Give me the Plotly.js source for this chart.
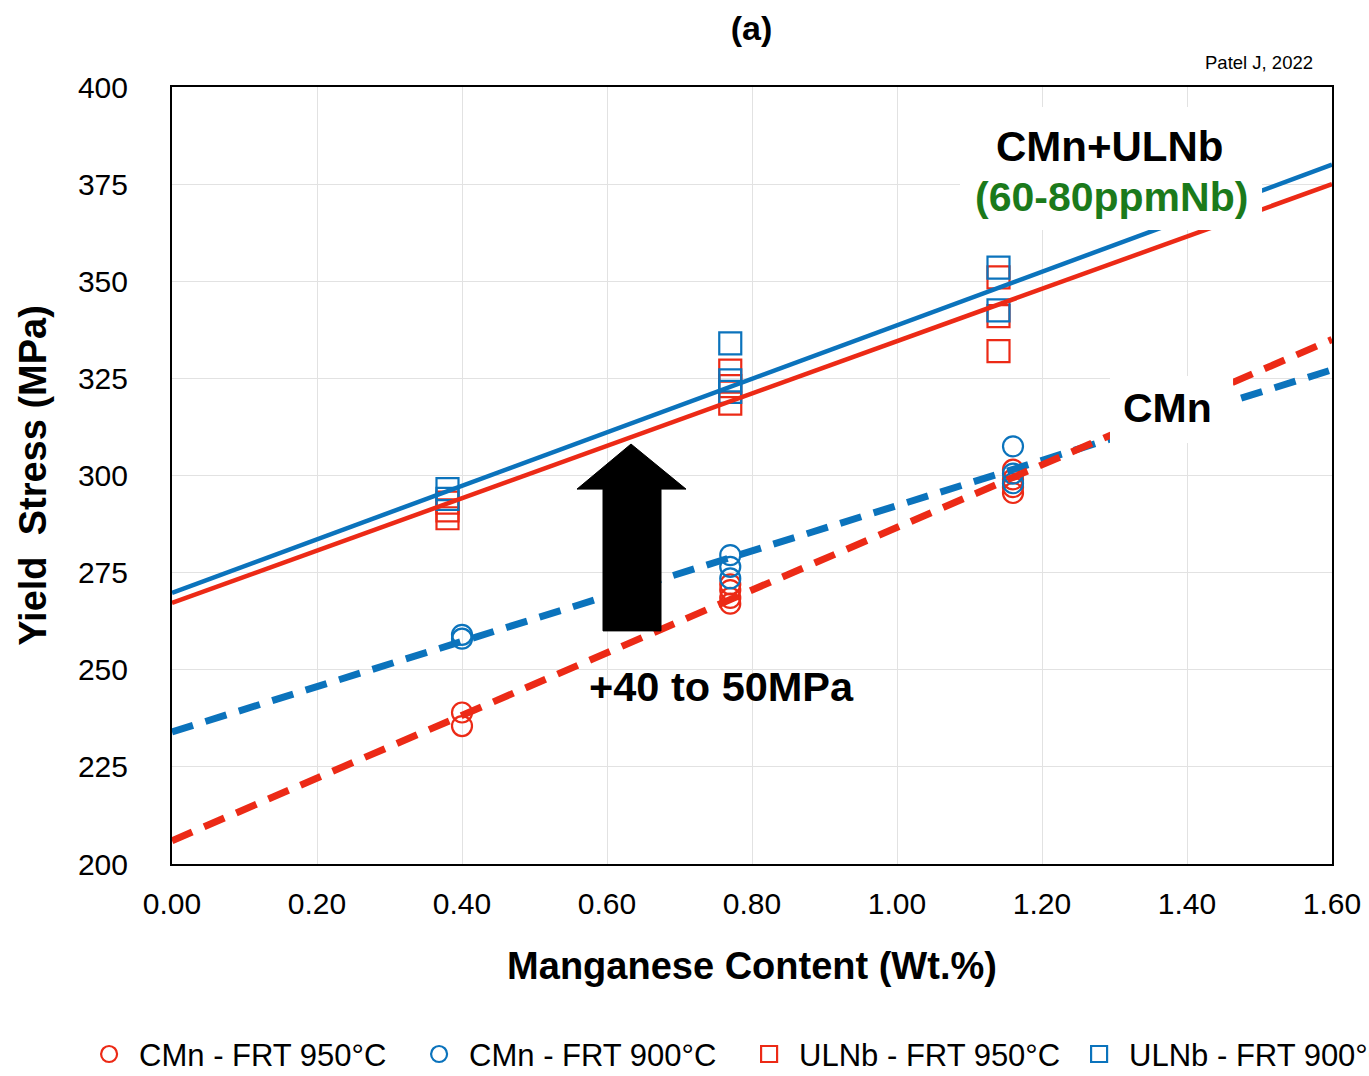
<!DOCTYPE html>
<html>
<head>
<meta charset="utf-8">
<script src="https://cdn.plot.ly/plotly-3.0.1.min.js"></script>
<style>html,body{margin:0;padding:0;background:#fff;}#chart{width:1369px;height:1076px;}</style>
</head>
<body>
<div id="chart"></div>
<script>
// ---- data ----
var cmn950X = [0.40, 0.40, 0.77, 0.77, 0.77, 0.77, 1.16, 1.16, 1.16, 1.16];
var cmn950Y = [239, 235.5, 272, 270.5, 268.5, 267, 301.5, 299, 297, 295.5];
var cmn900X = [0.40, 0.40, 0.77, 0.77, 0.77, 1.16, 1.16, 1.16];
var cmn900Y = [259, 258, 279.5, 276.5, 273.5, 307.5, 300.5, 298];
var ulnb950X = [0.38, 0.38, 0.38, 0.77, 0.77, 0.77, 1.14, 1.14, 1.14];
var ulnb950Y = [293, 291, 289, 327, 323, 318.5, 351, 341, 332];
var ulnb900X = [0.38, 0.38, 0.77, 0.77, 0.77, 1.14, 1.14];
var ulnb900Y = [296.5, 294, 334, 324.5, 321.5, 353.5, 342.5];

// trend lines (end values)
var fitX = [0, 1.6];
var fitUlnb950 = [267.2, 375];
var fitUlnb900 = [269.8, 380];
var fitCmn950 = [206, 335];
var fitCmn900 = [234, 327.2];

// block arrow outline (data units)
var arrowX = [0.5945, 0.5945, 0.5586, 0.6331, 0.709, 0.6745, 0.6745];
var arrowY = [260, 296.5, 296.5, 308.1, 296.5, 296.5, 260];

var seriesNames = ['CMn - FRT 950°C', 'CMn - FRT 900°C', 'ULNb - FRT 950°C', 'ULNb - FRT 900°C'];
var xTicks = [0, 0.2, 0.4, 0.6, 0.8, 1.0, 1.2, 1.4, 1.6];
var xTickText = ['0.00', '0.20', '0.40', '0.60', '0.80', '1.00', '1.20', '1.40', '1.60'];
var yTicks = [200, 225, 250, 275, 300, 325, 350, 375, 400];

var RED = '#EC2A16';
var BLUE = '#0B73BC';
var GREEN = '#1B7A1B';
var FONT = 'Liberation Sans, Arial, Helvetica, sans-serif';

var traces = [
  {x: cmn950X, y: cmn950Y, name: seriesNames[0], type: 'scatter', mode: 'markers',
   marker: {symbol: 'circle-open', size: 20, color: RED, line: {width: 2.2, color: RED}}},
  {x: cmn900X, y: cmn900Y, name: seriesNames[1], type: 'scatter', mode: 'markers',
   marker: {symbol: 'circle-open', size: 20, color: BLUE, line: {width: 2.2, color: BLUE}}},
  {x: ulnb950X, y: ulnb950Y, name: seriesNames[2], type: 'scatter', mode: 'markers',
   marker: {symbol: 'square-open', size: 22, color: RED, line: {width: 2.2, color: RED}}},
  {x: ulnb900X, y: ulnb900Y, name: seriesNames[3], type: 'scatter', mode: 'markers',
   marker: {symbol: 'square-open', size: 22, color: BLUE, line: {width: 2.2, color: BLUE}}},
  {x: fitX, y: fitCmn900, type: 'scatter', mode: 'lines', showlegend: false, hoverinfo: 'skip',
   line: {color: BLUE, width: 7, dash: '22px,13px'}},
  {x: fitX, y: fitCmn950, type: 'scatter', mode: 'lines', showlegend: false, hoverinfo: 'skip',
   line: {color: RED, width: 7, dash: '22px,13px'}},
  {x: fitX, y: fitUlnb950, type: 'scatter', mode: 'lines', showlegend: false, hoverinfo: 'skip',
   line: {color: RED, width: 4.5}},
  {x: fitX, y: fitUlnb900, type: 'scatter', mode: 'lines', showlegend: false, hoverinfo: 'skip',
   line: {color: BLUE, width: 4.5}}
];

var arrowPath = 'M ' + arrowX.map(function (v, i) { return v + ',' + arrowY[i]; }).join(' L ') + ' Z';

var layout = {
  width: 1369, height: 1076,
  margin: {l: 172, r: 37, t: 87, b: 212, autoexpand: false},
  paper_bgcolor: '#ffffff', plot_bgcolor: '#ffffff',
  font: {family: FONT, color: '#000'},
  title: {text: '<b>(a)</b>', font: {size: 34, family: FONT, color: '#000'},
          x: 0.549, xanchor: 'center', y: 0.974, yanchor: 'middle', yref: 'container'},
  showlegend: true,
  legend: {orientation: 'h', x: -0.0801, xanchor: 'left', y: -0.245, yanchor: 'middle',
           font: {size: 31, family: FONT, color: '#000'}, entrywidth: 265, entrywidthmode: 'pixels',
           itemwidth: 50, itemsizing: 'trace', bgcolor: 'rgba(0,0,0,0)'},
  xaxis: {range: [0, 1.6], tickmode: 'array', tickvals: xTicks, ticktext: xTickText,
          showgrid: true, gridcolor: '#e2e2e2', gridwidth: 1, zeroline: false,
          showline: true, linecolor: '#000', linewidth: 2, mirror: true, ticks: '',
          tickfont: {size: 30, family: FONT, color: '#000'}, ticklabelstandoff: 12,
          title: {text: '<b>Manganese Content (Wt.%)</b>', font: {size: 38, family: FONT, color: '#000'}, standoff: 33}},
  yaxis: {range: [200, 400], tickmode: 'array', tickvals: yTicks,
          showgrid: true, gridcolor: '#e2e2e2', gridwidth: 1, zeroline: false,
          showline: true, linecolor: '#000', linewidth: 2, mirror: true, ticks: '',
          tickfont: {size: 30, family: FONT, color: '#000'}, ticklabelstandoff: 36,
          title: {text: '<b>Yield  Stress (MPa)</b>', font: {size: 38, family: FONT, color: '#000'}, standoff: 20}},
  shapes: [
    {type: 'rect', xref: 'paper', yref: 'paper', x0: 0.6793, x1: 0.9397, y0: 0.816, y1: 0.9743,
     fillcolor: '#ffffff', line: {width: 0}, layer: 'above'},
    {type: 'rect', xref: 'paper', yref: 'paper', x0: 0.8086, x1: 0.9147, y0: 0.5418, y1: 0.628,
     fillcolor: '#ffffff', line: {width: 0}, layer: 'above'},
    {type: 'path', xref: 'x', yref: 'y', path: arrowPath, fillcolor: '#000', line: {color: '#000', width: 1}, layer: 'above'}
  ],
  annotations: [
    {text: 'Patel J, 2022', xref: 'paper', yref: 'paper', x: 0.985, y: 1.031, xanchor: 'right', yanchor: 'middle',
     showarrow: false, font: {size: 18.5, family: FONT, color: '#000'}},
    {text: '<b>CMn+ULNb</b>', xref: 'paper', yref: 'paper', x: 0.8086, y: 0.9228, xanchor: 'center', yanchor: 'middle',
     showarrow: false, font: {size: 42, family: FONT, color: '#000'}},
    {text: '<b>(60-80ppmNb)</b>', xref: 'paper', yref: 'paper', x: 0.8095, y: 0.8584, xanchor: 'center', yanchor: 'middle',
     showarrow: false, font: {size: 41, family: FONT, color: GREEN}},
    {text: '<b>CMn</b>', xref: 'paper', yref: 'paper', x: 0.8586, y: 0.5869, xanchor: 'center', yanchor: 'middle',
     showarrow: false, font: {size: 41, family: FONT, color: '#000'}},
    {text: '<b>+40 to 50MPa</b>', xref: 'paper', yref: 'paper', x: 0.4733, y: 0.2278, xanchor: 'center', yanchor: 'middle',
     showarrow: false, font: {size: 41.5, family: FONT, color: '#000'}}
  ]
};

Plotly.newPlot('chart', traces, layout, {displayModeBar: false, staticPlot: true});
</script>
</body>
</html>
